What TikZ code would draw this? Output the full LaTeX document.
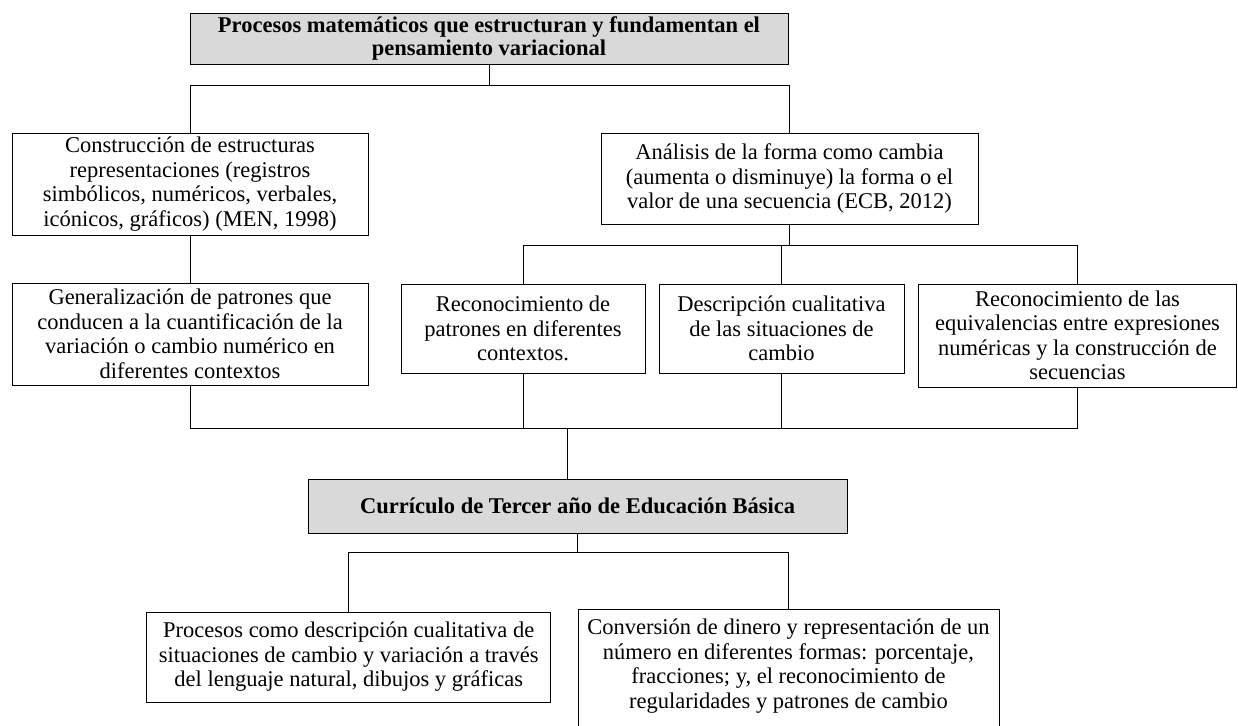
\documentclass[tikz,border=0pt]{standalone}
\usepackage{fontspec}
\setmainfont{Liberation Serif}
\definecolor{headgray}{HTML}{D9D9D9}
\begin{document}
\begin{tikzpicture}[x=1pt,y=-1pt,
  box/.style={draw=black, line width=0.9pt, fill=white, inner sep=0pt, align=center,
    font=\fontsize{22.5}{24.5}\selectfont},
  head/.style={box, fill=headgray, font=\fontsize{22.5}{23.5}\selectfont\bfseries},
  link/.style={draw=black, line width=0.9pt}]
\useasboundingbox (0,0) rectangle (1238,725);
\clip (0,0) rectangle (1238,725);
\fill[white] (0,0) rectangle (1238,725);

\node[head, minimum width=598pt, minimum height=51pt] (top) at (489,38.5)
  {Procesos matemáticos que estructuran y fundamentan el\\pensamiento variacional};
\node[box, minimum width=356pt, minimum height=102pt] (cons) at (190,184)
  {Construcción de estructuras\\representaciones (registros\\simbólicos, numéricos, verbales,\\icónicos, gráficos) (MEN, 1998)};
\node[box, minimum width=377pt, minimum height=91pt] (an) at (789.5,178.5)
  {Análisis de la forma como cambia\\(aumenta o disminuye) la forma o el\\valor de una secuencia (ECB, 2012)};
\node[box, minimum width=356pt, minimum height=102pt] (gen) at (190,334)
  {Generalización de patrones que\\conducen a la cuantificación de la\\variación o cambio numérico en\\diferentes contextos};
\node[box, minimum width=244pt, minimum height=89pt] (rec) at (523,328.5)
  {Reconocimiento de\\patrones en diferentes\\contextos.};
\node[box, minimum width=245pt, minimum height=89pt] (desc) at (781.5,328.5)
  {Descripción cualitativa\\de las situaciones de\\cambio};
\node[box, minimum width=318pt, minimum height=103pt] (eq) at (1077.5,335.5)
  {Reconocimiento de las\\equivalencias entre expresiones\\numéricas y la construcción de\\secuencias};
\node[head, minimum width=539pt, minimum height=54pt] (cur) at (577.7,506)
  {Currículo de Tercer año de Educación Básica};
\node[box, minimum width=404pt, minimum height=90pt] (pl) at (348.7,657)
  {Procesos como descripción cualitativa de\\situaciones de cambio y variación a través\\del lenguaje natural, dibujos y gráficas};
\node[box, minimum width=421pt, minimum height=134pt] (conv) at (788.5,676)
  {Conversión de dinero y representación de un\\número en diferentes formas: porcentaje,\\fracciones; y, el reconocimiento de\\regularidades y patrones de cambio\\\mbox{}};

\coordinate (j1) at (489,85);
\draw[link] (top.south) -- (j1);
\draw[link] (cons.north) |- (an.north |- j1) -- (an.north);
\draw[link] (cons.south) -- (gen.north);

\coordinate (k) at (789.5,245);
\draw[link] (an.south) -- (k);
\draw[link] (rec.north) |- (eq.north |- k) -- (eq.north);
\draw[link] (desc.north) -- (desc.north |- k);

\coordinate (m) at (567,428);
\draw[link] (gen.south) |- (eq.south |- m) -- (eq.south);
\draw[link] (rec.south) -- (rec.south |- m);
\draw[link] (desc.south) -- (desc.south |- m);
\draw[link] (m) -- (m |- cur.north);

\coordinate (n) at (577.7,552);
\draw[link] (cur.south) -- (n);
\draw[link] (pl.north) |- (conv.north |- n) -- (conv.north);
\end{tikzpicture}
\end{document}
